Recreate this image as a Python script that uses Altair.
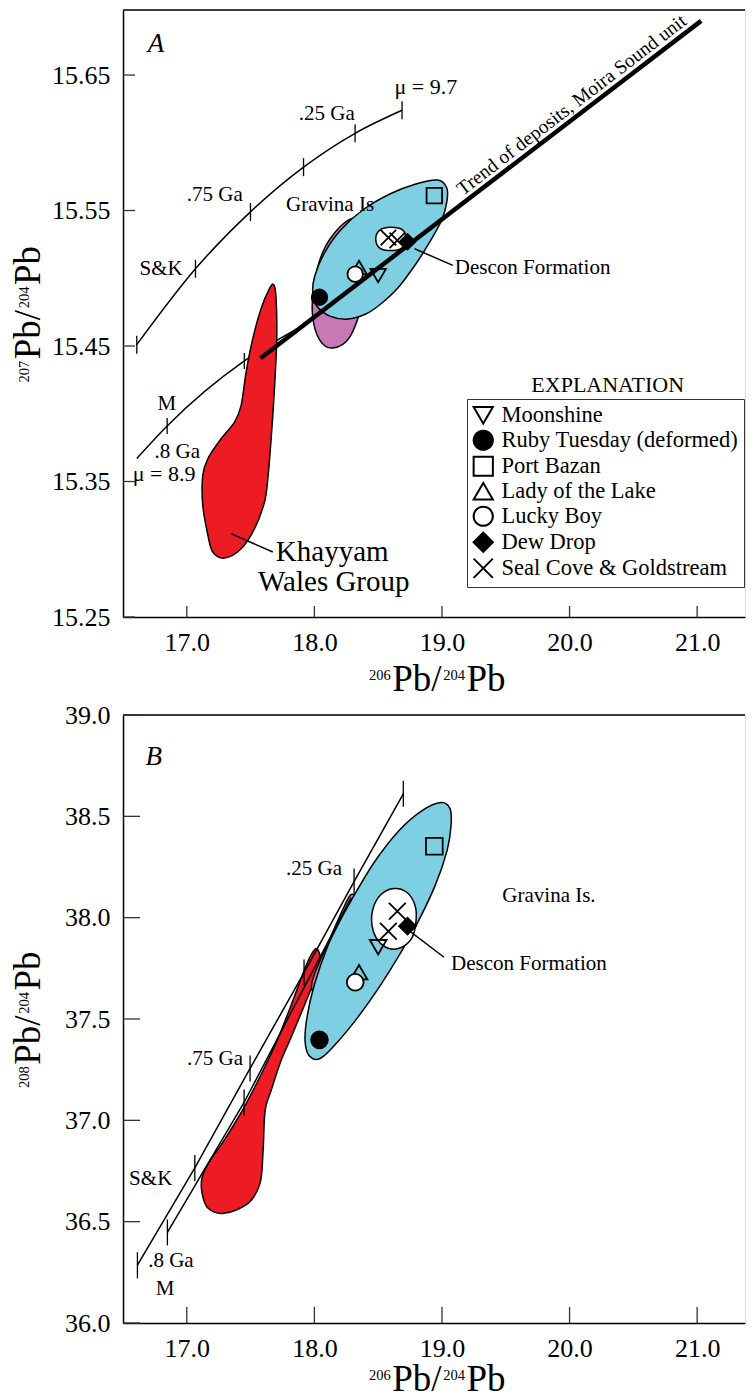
import altair as alt
import pandas as pd

FONT = "Liberation Serif"
W, HA, HB = 622, 607, 608

# ---------------- sample data ----------------
SAMPLES = ["Moonshine", "Ruby Tuesday (deformed)", "Port Bazan", "Lady of the Lake",
           "Lucky Boy", "Dew Drop", "Seal Cove & Goldstream"]
SHAPES = ["triangle-down", "circle", "square", "triangle-up", "circle", "diamond",
          "M-1,-1L1,1M-1,1L1,-1"]
FILLS = ["transparent", "black", "transparent", "transparent", "white", "black", "transparent"]

PT_SAMPLE = ["Moonshine", "Ruby Tuesday (deformed)", "Port Bazan", "Lady of the Lake",
             "Lucky Boy", "Dew Drop", "Seal Cove & Goldstream", "Seal Cove & Goldstream"]
PT_206 = [18.50, 18.04, 18.94, 18.35, 18.32, 18.73, 18.58, 18.65]
PT_207 = [15.502, 15.486, 15.561, 15.508, 15.503, 15.527, 15.530, 15.528]
PT_208 = [37.854, 37.397, 38.352, 37.731, 37.681, 37.958, 37.933, 38.032]

# ---------------- growth curves / trend ----------------
SK_A_206 = [16.608, 17.068, 17.499, 17.915, 18.319, 18.687]
SK_A_207 = [15.451, 15.507, 15.549, 15.582, 15.607, 15.624]
M_A_206 = [16.608, 16.846, 17.451, 17.870]
M_A_207 = [15.367, 15.391, 15.439, 15.463]
M_A_TICK = [0, 1, 1, 0]
TREND_206 = [17.578, 21.031]
TREND_207 = [15.441, 15.690]

SK_B_206 = [16.613, 17.063, 17.496, 17.919, 18.311, 18.697]
SK_B_208 = [36.285, 36.765, 37.256, 37.729, 38.178, 38.611]
M_B_206 = [16.848, 17.449, 18.288]
M_B_208 = [36.447, 37.088, 38.099]
M_B_TICK = [1, 1, 0]

# ---------------- fields (outlines) ----------------
RED_A_206 = [17.682, 17.700, 17.705, 17.687, 17.661, 17.635, 17.609, 17.531, 17.426, 17.295, 17.204,
             17.165, 17.125, 17.125, 17.165, 17.269, 17.374, 17.426, 17.465, 17.517, 17.582, 17.648]
RED_A_207 = [15.4952, 15.4849, 15.4554, 15.4185, 15.3816, 15.3521, 15.3349, 15.3152, 15.3004, 15.2935,
             15.2980, 15.3105, 15.3327, 15.3546, 15.3668, 15.3816, 15.3939, 15.4062, 15.4308, 15.4554,
             15.4775, 15.4923]
MAG_A_206 = [18.324, 18.418, 18.434, 18.379, 18.277, 18.144, 18.042, 17.987, 17.995, 18.066, 18.199]
MAG_A_207 = [15.5445, 15.5378, 15.5120, 15.4825, 15.4566, 15.4485, 15.4544, 15.4714, 15.4935,
             15.5194, 15.5378]
CYAN_A_206 = [18.967, 19.038, 19.038, 18.998, 18.904, 18.795, 18.654, 18.520, 18.403, 18.262, 18.121,
              18.019, 17.987, 18.003, 18.074, 18.199, 18.379, 18.591, 18.795]
CYAN_A_207 = [15.5725, 15.5666, 15.5563, 15.5430, 15.5268, 15.5105, 15.4928, 15.4810, 15.4736, 15.4699,
              15.4721, 15.4795, 15.4899, 15.5017, 15.5179, 15.5349, 15.5504, 15.5622, 15.5696]
WHITE_A_206 = [18.481, 18.513, 18.599, 18.693, 18.716, 18.685, 18.599, 18.513]
WHITE_A_207 = [15.5290, 15.5356, 15.5376, 15.5356, 15.5290, 15.5223, 15.5205, 15.5223]

RED_B_206 = [18.013, 18.045, 18.005, 17.927, 17.817, 17.739, 17.661, 17.614, 17.598, 17.574, 17.480,
             17.292, 17.167, 17.120, 17.120, 17.183, 17.292, 17.449, 17.590, 17.708, 17.817, 17.896, 17.959]
RED_B_208 = [37.848, 37.798, 37.700, 37.576, 37.409, 37.295, 37.147, 37.049, 36.852, 36.689, 36.590,
             36.541, 36.566, 36.640, 36.718, 36.802, 36.901, 37.064, 37.236, 37.394, 37.567, 37.700, 37.798]
MAG_B_206 = [18.280, 18.319, 18.295, 18.154, 18.036, 17.982, 17.997, 18.115, 18.217]
MAG_B_208 = [38.110, 38.101, 38.032, 37.844, 37.665, 37.641, 37.715, 37.887, 38.032]
CYAN_B_206 = [18.993, 19.063, 19.071, 19.040, 18.946, 18.797, 18.640, 18.491, 18.334, 18.178, 18.045,
              17.958, 17.927, 17.943, 17.998, 18.100, 18.194, 18.288, 18.468, 18.664, 18.844]
CYAN_B_208 = [38.568, 38.538, 38.454, 38.331, 38.158, 37.961, 37.789, 37.641, 37.503, 37.384, 37.305,
              37.320, 37.394, 37.512, 37.665, 37.853, 37.976, 38.084, 38.272, 38.430, 38.528]
WHITE_B_206 = [18.625, 18.727, 18.789, 18.797, 18.766, 18.680, 18.585, 18.499, 18.452, 18.460, 18.522]
WHITE_B_208 = [38.144, 38.124, 38.060, 37.986, 37.902, 37.853, 37.848, 37.887, 37.961, 38.045, 38.114]

# ---------------- axes ----------------
X_TICKS = [17.0, 18.0, 19.0, 20.0, 21.0]
Y_TICKS_A = [15.25, 15.35, 15.45, 15.55, 15.65]
Y_TICKS_B = [36.0, 36.5, 37.0, 37.5, 38.0, 38.5, 39.0]
X_DOMAIN = [16.5, 21.375]
Y_DOMAIN_A = [15.25, 15.698]
Y_DOMAIN_B = [36.0, 39.0]
X_TITLE = [("206", "sup"), ("Pb/", "main"), ("204", "sup"), ("Pb", "main")]
Y_TITLE_A = [("207", "sup"), ("Pb/", "main"), ("204", "sup"), ("Pb", "main")]
Y_TITLE_B = [("208", "sup"), ("Pb/", "main"), ("204", "sup"), ("Pb", "main")]

# ---------------- annotations ----------------
A_LEFT = [("S&K", 16.629, 15.507), ("Gravina Is", 17.778, 15.554),
          ("Descon Formation", 19.100, 15.5076), (".8 Ga", 16.747, 15.3718)]
A_MU = [("μ = 9.7", 18.628, 15.6411), ("μ = 8.9", 16.577, 15.3558)]
A_RIGHT = [(".25 Ga", 18.317, 15.6214), (".75 Ga", 17.439, 15.5611)]
A_CENTER = [("M", 16.843, 15.4074)]
A_BIG = [("Khayyam", 18.140, 15.2980), ("Wales Group", 18.152, 15.2758)]
A_TREND = [("Trend of deposits, Moira Sound unit", 20.017, 15.6279)]
A_LETTER = [("A", 16.694, 15.6731)]
A_EXPL = [("EXPLANATION", 20.299, 15.4214)]
A_LEADERS = [([18.785, 19.085], [15.5218, 15.5095]), ([17.347, 17.674], [15.3115, 15.2980])]

B_LEFT = [("Gravina Is.", 19.473, 38.109), ("Descon Formation", 19.071, 37.7722),
          ("S&K", 16.548, 36.712), (".8 Ga", 16.697, 36.3057)]
B_RIGHT = [(".25 Ga", 18.217, 38.2406), (".75 Ga", 17.441, 37.3037)]
B_CENTER = [("M", 16.830, 36.1696)]
B_LETTER = [("B", 16.676, 38.7909)]
B_LEADERS = [([18.742, 19.016], [37.9364, 37.8047])]

RED, MAGENTA, CYAN = "#ED1C24", "#C879B5", "#7ECFE2"
BIG_FS, SUP_FS = 37, 14.5
ADV = {"P": 0.556, "b": 0.5, "/": 0.278}
GAP = 1.5
DUMMY = pd.DataFrame({"d": [0]})


def make_enc(ydomain, yticks, yfmt):
    common = dict(ticks=False, tickSize=0, labelFont=FONT, labelFontSize=26, labelColor="black",
                  labelOverlap=False, title=None, domainColor="black", domainWidth=1.5, grid=False)
    ax_x = alt.Axis(values=X_TICKS, format=".1f", labelPadding=12, **common)
    ax_y = alt.Axis(values=yticks, format=yfmt, labelPadding=13, **common)
    X = alt.X("x:Q", scale=alt.Scale(domain=X_DOMAIN, nice=False, zero=False), axis=ax_x)
    Y = alt.Y("y:Q", scale=alt.Scale(domain=ydomain, nice=False, zero=False), axis=ax_y)
    return X, Y


def twidth(t, fs):
    return sum(ADV.get(c, 0.5) for c in t) * fs + GAP


def axis_titles(ypieces, h, xbase_off):
    out = []
    raise_ = 11
    # x title (horizontal, below the axis)
    total = sum(twidth(t, SUP_FS if k == "sup" else BIG_FS) for t, k in X_TITLE)
    cur = 315 - total / 2
    base = h + xbase_off
    for t, k in X_TITLE:
        fs = SUP_FS if k == "sup" else BIG_FS
        out.append(alt.Chart(DUMMY).mark_text(text=t, font=FONT, fontSize=fs, align="left",
                                              baseline="alphabetic", color="black").encode(
            x=alt.value(cur), y=alt.value(base - (raise_ if k == "sup" else 0))))
        cur += twidth(t, fs)
    # y title (rotated, left of the axis)
    total = sum(twidth(t, SUP_FS if k == "sup" else BIG_FS) for t, k in ypieces)
    cur = h / 2 + total / 2
    bx = -83
    for t, k in ypieces:
        fs = SUP_FS if k == "sup" else BIG_FS
        out.append(alt.Chart(DUMMY).mark_text(text=t, font=FONT, fontSize=fs, align="left",
                                              baseline="alphabetic", angle=270, color="black").encode(
            x=alt.value(bx - (raise_ if k == "sup" else 0)), y=alt.value(cur)))
        cur -= twidth(t, fs)
    return out


def poly(xs, ys, fill, X, Y, sw=1.5):
    df = pd.DataFrame({"x": xs, "y": ys, "i": list(range(len(xs)))})
    return alt.Chart(df).mark_line(interpolate="cardinal-closed", fill=fill, stroke="black",
                                   strokeWidth=sw, strokeJoin="round").encode(
        x=X, y=Y, order=alt.Order("i:Q"))


def curve(xs, ys, X, Y, sw=1.5, interp="monotone"):
    df = pd.DataFrame({"x": xs, "y": ys, "i": list(range(len(xs)))})
    return alt.Chart(df).mark_line(interpolate=interp, color="black", strokeWidth=sw).encode(
        x=X, y=Y, order=alt.Order("i:Q"))


def curve_ticks(xs, ys, flags, X, Y, length):
    rows = [(a, b) for a, b, f in zip(xs, ys, flags) if f]
    df = pd.DataFrame(rows, columns=["x", "y"])
    return alt.Chart(df).mark_tick(orient="vertical", size=length, thickness=1.3, color="black",
                                   opacity=1).encode(x=X, y=Y)


def texts(rows, X, Y, **kw):
    df = pd.DataFrame(rows, columns=["label", "x", "y"])
    return alt.Chart(df).mark_text(font=FONT, color="black", baseline="middle", **kw).encode(
        x=X, y=Y, text="label:N")


def leader(xs, ys, X, Y):
    df = pd.DataFrame({"x": xs, "y": ys, "i": [0, 1]})
    return alt.Chart(df).mark_line(color="black", strokeWidth=1.5).encode(x=X, y=Y, order="i:Q")


def frame(X, Y, yticks, h, tick_len):
    top = alt.Chart(DUMMY).mark_rule(color="black", strokeWidth=1.5).encode(
        x=alt.value(0), x2=alt.value(W), y=alt.value(0))
    xt = alt.Chart(pd.DataFrame({"x": X_TICKS})).mark_rule(color="#333", strokeWidth=1.3).encode(
        x=X, y=alt.value(h), y2=alt.value(h - tick_len))
    yt = alt.Chart(pd.DataFrame({"y": yticks})).mark_rule(color="#333", strokeWidth=1.3).encode(
        y=Y, x=alt.value(0), x2=alt.value(tick_len + 1))
    return [top, xt, yt]


def points(yvals, X, Y, size, legend):
    df = pd.DataFrame({"x": PT_206, "y": yvals, "sample": PT_SAMPLE})
    return alt.Chart(df).mark_point(opacity=1, strokeWidth=1.8, size=size).encode(
        x=X, y=Y,
        shape=alt.Shape("sample:N", scale=alt.Scale(domain=SAMPLES, range=SHAPES), legend=legend),
        fill=alt.Fill("sample:N", scale=alt.Scale(domain=SAMPLES, range=FILLS), legend=legend),
        stroke=alt.Stroke("sample:N", scale=alt.Scale(domain=SAMPLES, range=["black"] * len(SAMPLES)),
                          legend=legend))


leg = alt.Legend(title=None, orient="none", legendX=344, legendY=389, padding=5, symbolOffset=0,
                 strokeColor="#333", symbolSize=370, symbolStrokeWidth=2, symbolOpacity=1,
                 labelFont=FONT, labelFontSize=22.5, labelColor="black", labelLimit=400,
                 rowPadding=-2, labelOffset=7)

# ---------------- panel A ----------------
XA, YA = make_enc(Y_DOMAIN_A, Y_TICKS_A, ".2f")
layers_a = [
    curve(M_A_206, M_A_207, XA, YA),
    curve_ticks(M_A_206, M_A_207, M_A_TICK, XA, YA, 16),
    poly(RED_A_206, RED_A_207, RED, XA, YA),
    poly(MAG_A_206, MAG_A_207, MAGENTA, XA, YA),
    poly(CYAN_A_206, CYAN_A_207, CYAN, XA, YA),
    poly(WHITE_A_206, WHITE_A_207, "white", XA, YA),
    curve(SK_A_206, SK_A_207, XA, YA),
    curve_ticks(SK_A_206, SK_A_207, [1] * len(SK_A_206), XA, YA, 18),
    curve(TREND_206, TREND_207, XA, YA, sw=4.5, interp="linear"),
] + [leader(a, b, XA, YA) for a, b in A_LEADERS] + [
    points(PT_207, XA, YA, 240, leg),
    texts(A_LEFT, XA, YA, align="left", fontSize=21),
    texts(A_MU, XA, YA, align="left", fontSize=22),
    texts(A_RIGHT, XA, YA, align="right", fontSize=21),
    texts(A_CENTER, XA, YA, align="center", fontSize=21),
    texts(A_BIG, XA, YA, align="center", fontSize=29),
    texts(A_TREND, XA, YA, align="center", fontSize=19.5, angle=322.5),
    texts(A_LETTER, XA, YA, align="left", fontSize=27, fontStyle="italic"),
    texts(A_EXPL, XA, YA, align="center", fontSize=22),
] + frame(XA, YA, Y_TICKS_A, HA, 11) + axis_titles(Y_TITLE_A, HA, 74)
panel_a = alt.layer(*layers_a).properties(width=W, height=HA)

# ---------------- panel B ----------------
XB, YB = make_enc(Y_DOMAIN_B, Y_TICKS_B, ".1f")
layers_b = [
    poly(RED_B_206, RED_B_208, RED, XB, YB),
    poly(MAG_B_206, MAG_B_208, MAGENTA, XB, YB),
    poly(CYAN_B_206, CYAN_B_208, CYAN, XB, YB),
    poly(WHITE_B_206, WHITE_B_208, "white", XB, YB),
    curve(SK_B_206, SK_B_208, XB, YB, interp="linear"),
    curve_ticks(SK_B_206, SK_B_208, [1] * len(SK_B_206), XB, YB, 26),
    curve(M_B_206, M_B_208, XB, YB, interp="linear"),
    curve_ticks(M_B_206, M_B_208, M_B_TICK, XB, YB, 26),
] + [leader(a, b, XB, YB) for a, b in B_LEADERS] + [
    points(PT_208, XB, YB, 280, None),
    texts(B_LEFT, XB, YB, align="left", fontSize=21),
    texts(B_RIGHT, XB, YB, align="right", fontSize=21),
    texts(B_CENTER, XB, YB, align="center", fontSize=21),
    texts(B_LETTER, XB, YB, align="left", fontSize=27, fontStyle="italic"),
] + frame(XB, YB, Y_TICKS_B, HB, 16) + axis_titles(Y_TITLE_B, HB, 68)
panel_b = alt.layer(*layers_b).properties(width=W, height=HB)

chart = alt.vconcat(panel_a, panel_b, spacing=2).resolve_scale(
    x="independent", y="independent", shape="independent", fill="independent", stroke="independent"
).resolve_legend(shape="independent", fill="independent", stroke="independent").properties(
    padding={"left": 1, "top": 0, "right": 0, "bottom": 0}
).configure_view(stroke=None).configure(font=FONT, background="white")

chart.save("out.html", embed_options={"renderer": "svg", "actions": False})
